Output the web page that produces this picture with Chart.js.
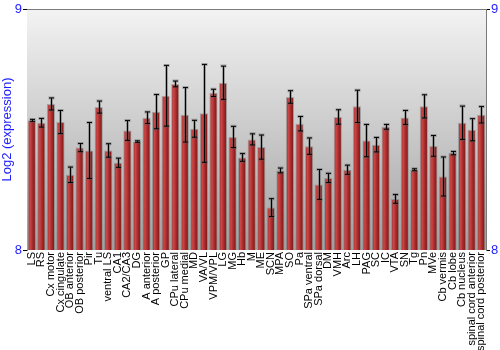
<!DOCTYPE html>
<html>
<head>
<meta charset="utf-8">
<style>
html,body{margin:0;padding:0;background:#ffffff;}
canvas{display:block;}
</style>
<script src="https://cdn.jsdelivr.net/npm/chart.js@4.4.1/dist/chart.umd.min.js"></script>
</head>
<body>
<canvas id="c" width="500" height="350"></canvas>
<script>
const categories = ["LS","RS","Cx motor","Cx cingulate","OB anterior","OB posterior","Pir","Tu","ventral LS","CA1","CA2/CA3","DG","A anterior","A posterior","GP","CPu lateral","CPu medial","MD","VA/VL","VPM/VPL","LG","MG","Hb","M","ME","SCN","MPA","SO","Pa","SPa ventral","SPa dorsal","DM","VMH","Arc","LH","PAG","SC","IC","VTA","SN","Tg","Pn","MVe","Cb vermis","Cb lobe","Cb nucleus","spinal cord anterior","spinal cord posterior"];
const values = [8.538,8.528,8.606,8.531,8.312,8.425,8.413,8.593,8.413,8.362,8.496,8.450,8.549,8.574,8.640,8.689,8.561,8.503,8.567,8.652,8.694,8.469,8.384,8.459,8.427,8.176,8.330,8.635,8.524,8.431,8.272,8.299,8.552,8.333,8.596,8.454,8.437,8.511,8.212,8.550,8.333,8.596,8.432,8.305,8.402,8.528,8.499,8.561];
const errors = [0.004,0.018,0.025,0.048,0.032,0.017,0.116,0.025,0.028,0.019,0.041,0.003,0.024,0.071,0.126,0.012,0.113,0.035,0.203,0.015,0.069,0.044,0.016,0.023,0.050,0.037,0.010,0.026,0.030,0.034,0.062,0.019,0.030,0.019,0.067,0.067,0.030,0.010,0.018,0.029,0.004,0.048,0.043,0.081,0.007,0.069,0.046,0.034];
const yTicks = [8, 9];
const yMin = 8, yMax = 9;
const yTitle = "Log2 (expression)";

const BAR_PCT = 0.86;
const FONT = "'Liberation Sans', Arial, sans-serif";
const BLUE = "#1e1eff";

function barGradient(ctx) {
  const chart = ctx.chart;
  const xs = chart.scales && chart.scales.x;
  if (!chart.chartArea || !xs || ctx.dataIndex === undefined) return "#b03030";
  const cx = xs.getPixelForValue(ctx.dataIndex);
  const step = xs.getPixelForValue(1) - xs.getPixelForValue(0);
  const w = step * BAR_PCT;
  const g = chart.ctx.createLinearGradient(cx - w / 2, 0, cx + w / 2, 0);
  g.addColorStop(0, "#9e2a2a");
  g.addColorStop(0.3, "#cc4646");
  g.addColorStop(0.65, "#a02626");
  g.addColorStop(1, "#721515");
  return g;
}

const decor = {
  id: "decor",
  beforeDatasetsDraw(chart) {
    const { ctx, chartArea: a } = chart;
    ctx.save();
    const g = ctx.createLinearGradient(0, a.top, 0, a.bottom);
    g.addColorStop(0, "#f3f3f3");
    g.addColorStop(1, "#a2a2a2");
    ctx.fillStyle = g;
    ctx.fillRect(a.left, a.top, a.right - a.left, a.bottom - a.top);
    ctx.strokeStyle = "#7a7a7a";
    ctx.lineWidth = 1;
    ctx.beginPath();
    ctx.moveTo(a.left, a.top + 0.5);
    ctx.lineTo(a.right, a.top + 0.5);
    ctx.stroke();
    ctx.restore();
  },
  afterDatasetsDraw(chart) {
    const { ctx } = chart;
    const ys = chart.scales.y;
    const meta = chart.getDatasetMeta(0);
    ctx.save();
    const passes = [["rgba(90,90,90,0.45)", 3, 3], ["#000000", 1, 2.5]];
    for (const [col, lw, cap] of passes) {
      ctx.strokeStyle = col;
      ctx.lineWidth = lw;
      ctx.beginPath();
      meta.data.forEach((bar, i) => {
        const x = Math.round(bar.x) + 0.5;
        const t = ys.getPixelForValue(values[i] + errors[i]);
        const b = ys.getPixelForValue(values[i] - errors[i]);
        ctx.moveTo(x, t); ctx.lineTo(x, b);
        ctx.moveTo(x - cap, t); ctx.lineTo(x + cap, t);
        ctx.moveTo(x - cap, b); ctx.lineTo(x + cap, b);
      });
      ctx.stroke();
    }
    ctx.restore();
  }
};

function yAxis(pos, width) {
  return {
    type: "linear",
    position: pos,
    min: yMin,
    max: yMax,
    afterBuildTicks(s) { s.ticks = yTicks.map(v => ({ value: v })); },
    afterFit(s) { s.width = width; },
    ticks: { color: BLUE, font: { family: FONT, size: 13 }, padding: 1 },
    grid: { drawOnChartArea: false, color: "#000000", tickLength: 4, tickColor: "#000000" },
    border: { display: true, color: "#7a7a7a" }
  };
}

const leftAxis = yAxis("left", 27);
leftAxis.title = { display: true, text: yTitle, color: BLUE, font: { family: FONT, size: 13 }, padding: { top: 0, bottom: 0 } };
const rightAxis = yAxis("right", 14);

new Chart(document.getElementById("c"), {
  type: "bar",
  data: {
    labels: categories,
    datasets: [{
      data: values,
      backgroundColor: barGradient,
      borderColor: "rgba(110,110,110,0.45)",
      borderWidth: 1,
      borderSkipped: "bottom",
      barPercentage: BAR_PCT,
      categoryPercentage: 1.0
    }]
  },
  options: {
    responsive: false,
    animation: false,
    devicePixelRatio: 1,
    layout: { padding: { top: 9, left: 0, right: 0, bottom: 0 } },
    plugins: { legend: { display: false }, tooltip: { enabled: false } },
    scales: {
      x: {
        afterFit(s) { s.height = 100; },
        ticks: { autoSkip: false, minRotation: 90, maxRotation: 90, color: "#000000", font: { family: FONT, size: 11 }, padding: 2 },
        grid: { display: false, drawTicks: false },
        border: { display: false }
      },
      y: leftAxis,
      y2: rightAxis
    }
  },
  plugins: [decor]
});
</script>
</body>
</html>
